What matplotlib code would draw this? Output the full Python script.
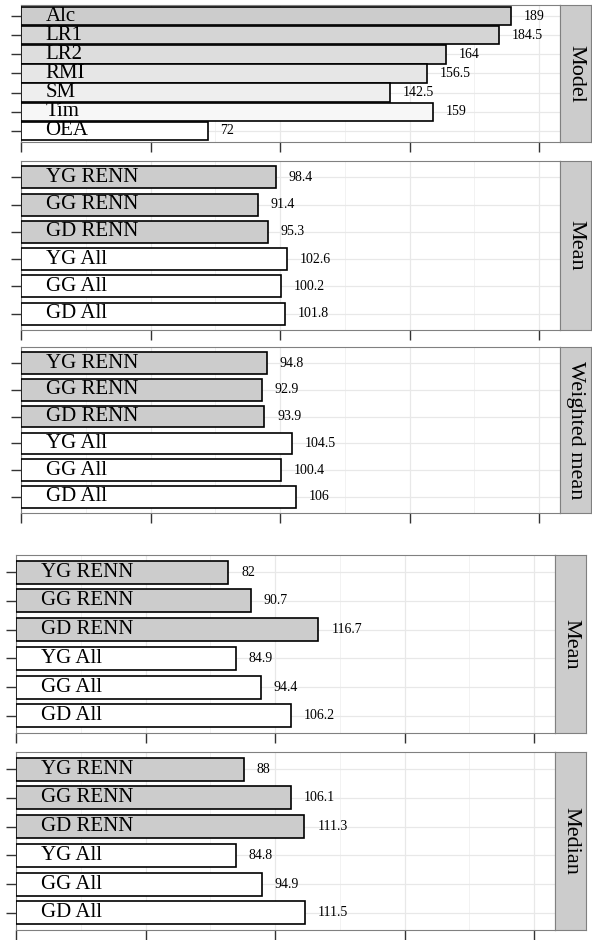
import matplotlib
matplotlib.use("Agg")
import matplotlib.pyplot as plt
import numpy as np

plt.rcParams['font.family'] = ['Liberation Serif', 'DejaVu Serif']

# ---- data ----
model_labels = ["Alc", "LR1", "LR2", "RMI", "SM", "Tim", "OEA"]
model_values = [189, 184.5, 164, 156.5, 142.5, 159, 72]

group_labels = ["YG RENN", "GG RENN", "GD RENN", "YG All", "GG All", "GD All"]
top_mean = [98.4, 91.4, 95.3, 102.6, 100.2, 101.8]
top_wmean = [94.8, 92.9, 93.9, 104.5, 100.4, 106]
bot_mean = [82, 90.7, 116.7, 84.9, 94.4, 106.2]
bot_median = [88, 106.1, 111.3, 84.8, 94.9, 111.5]

strip_titles = ["Model", "Mean", "Weighted mean", "Mean", "Median"]
x_ticks = [0, 50, 100, 150, 200]
x_minor = [25, 75, 125, 175]

# ---- styling ----
W, H = 592, 940
fig = plt.figure(figsize=(W / 100, H / 100), dpi=100)

model_fills = [str(g) for g in np.linspace(0.8, 1.0, len(model_labels))]
group_fills = ["#cccccc" if "RENN" in g else "#ffffff" for g in group_labels]

def px_axes(x0, y0, x1, y1):
    return fig.add_axes([x0 / W, 1 - y1 / H, (x1 - x0) / W, (y1 - y0) / H])

def panel(box, strip_box, labels, values, fills, title, bar_w):
    ax = px_axes(*box)
    n = len(labels)
    pos = np.arange(1, n + 1)
    ax.set_axisbelow(True)
    ax.barh(pos, values, height=bar_w, color=fills, edgecolor="black",
            linewidth=1.2, zorder=3)
    for p, lab, v in zip(pos, labels, values):
        ax.text(9.5, p, lab, ha="left", va="center", fontsize=15, zorder=4)
        ax.text(v + 5, p, f"{v:g}", ha="left", va="center", fontsize=10, zorder=4)
    ax.set_xlim(0, 208)
    ax.set_ylim(n + 0.6, 0.4)
    ax.set_xticks(x_ticks)
    ax.set_xticks(x_minor, minor=True)
    ax.set_yticks(pos)
    ax.set_xticklabels([])
    ax.set_yticklabels([])
    ax.tick_params(axis="x", which="major", direction="out", length=7, width=1.0,
                   color="#333333")
    ax.tick_params(axis="x", which="minor", length=0)
    ax.tick_params(axis="y", direction="out", length=7, width=1.0, color="#333333")
    ax.grid(True, which="major", color="#e8e8e8", linewidth=0.9)
    ax.grid(True, which="minor", axis="x", color="#f0f0f0", linewidth=0.6)
    for s in ax.spines.values():
        s.set_color("#808080")
        s.set_linewidth(0.8)
    sx = px_axes(*strip_box)
    sx.set_facecolor("#cccccc")
    sx.set_xticks([])
    sx.set_yticks([])
    for s in sx.spines.values():
        s.set_color("#808080")
        s.set_linewidth(0.8)
    sx.text(0.5, 0.5, title, rotation=-90, ha="center", va="center",
            fontsize=16, transform=sx.transAxes)
    return ax

panel((21, 5, 560, 142), (560, 5, 591, 142), model_labels, model_values,
      model_fills, strip_titles[0], 0.95)
panel((21, 161, 560, 330), (560, 161, 591, 330), group_labels, top_mean,
      group_fills, strip_titles[1], 0.8)
panel((21, 347, 560, 513), (560, 347, 591, 513), group_labels, top_wmean,
      group_fills, strip_titles[2], 0.8)
panel((16, 555, 555, 733), (555, 555, 586, 733), group_labels, bot_mean,
      group_fills, strip_titles[3], 0.8)
panel((16, 752, 555, 930), (555, 752, 586, 930), group_labels, bot_median,
      group_fills, strip_titles[4], 0.8)

fig.savefig("out.png", dpi=100, facecolor="white")
